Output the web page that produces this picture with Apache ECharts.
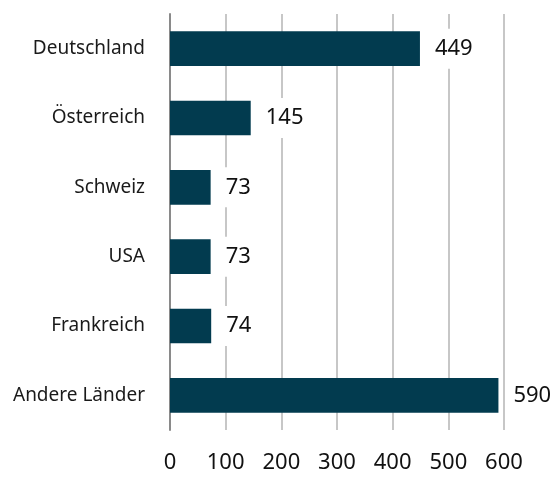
<!DOCTYPE html>
<html>
<head>
<meta charset="utf-8">
<script src="https://cdn.jsdelivr.net/npm/echarts@6/dist/echarts.min.js"></script>
<style>
  html, body { margin: 0; padding: 0; background: #fff; }
  #chart { width: 557px; height: 477px; }
</style>
</head>
<body>
<div id="chart"></div>
<script>
// Länder von oben nach unten
const countries = ['Deutschland', 'Österreich', 'Schweiz', 'USA', 'Frankreich', 'Andere Länder'];
const counts = [449, 145, 73, 73, 74, 590];
const xTicks = [0, 100, 200, 300, 400, 500, 600];

const font = '"Noto Sans", sans-serif';

let option = {
    animation: false,
    grid: {
        left: 170,
        right: 53,
        top: 14,
        bottom: 47
    },
    xAxis: {
        type: 'value',
        min: xTicks[0],
        max: xTicks[xTicks.length - 1],
        interval: 100,
        axisLine: { show: false },
        axisTick: { show: false },
        axisLabel: {
            color: '#111',
            fontSize: 22,
            fontFamily: font,
            margin: 22
        },
        splitLine: {
            lineStyle: { color: '#b4b4b4', width: 1.5 }
        }
    },
    yAxis: {
        type: 'category',
        inverse: true,
        data: countries,
        axisLine: {
            lineStyle: { color: '#8a8a8a', width: 2 }
        },
        axisTick: { show: false },
        axisLabel: {
            color: '#1a1a1a',
            fontSize: 19,
            fontFamily: font,
            margin: 25
        }
    },
    series: [{
        type: 'bar',
        data: counts,
        barCategoryGap: '50%',
        itemStyle: { color: '#023b4f' },
        label: {
            show: true,
            position: 'right',
            distance: 10,
            color: '#111',
            fontSize: 22,
            fontFamily: font,
            backgroundColor: '#fff',
            padding: [9, 5]
        }
    }]
};

let myChart = echarts.init(document.getElementById('chart'));
myChart.setOption(option);
</script>
</body>
</html>
